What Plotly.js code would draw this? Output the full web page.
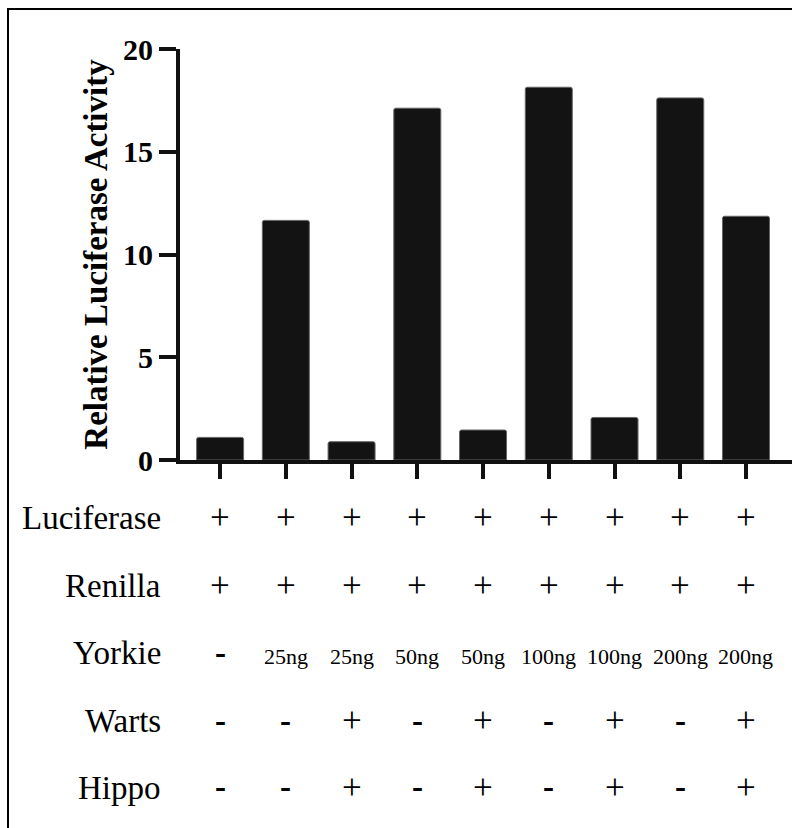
<!DOCTYPE html>
<html>
<head>
<meta charset="utf-8">
<script src="https://cdn.plot.ly/plotly-3.0.1.min.js"></script>
<style>
  html, body { margin: 0; padding: 0; background: #fff; }
  #wrap { position: relative; width: 792px; height: 828px; overflow: hidden; }
  #frame { position: absolute; left: 7px; top: 8px; width: 800px; height: 840px;
           border-left: 2.5px solid #000; border-top: 2.5px solid #000; pointer-events: none; }
  #chart { position: absolute; left: 0; top: 0; width: 792px; height: 828px; }
  #chart text { font-family: 'Liberation Serif' !important; }
</style>
</head>
<body>
<div id="wrap">
  <div id="chart"></div>
  <div id="frame"></div>
</div>
<script>
// Relative luciferase activity per transfection condition
const conditions = [0, 1, 2, 3, 4, 5, 6, 7, 8];
const activity = [1.10, 11.66, 0.89, 17.12, 1.46, 18.14, 2.07, 17.62, 11.86];

// Transfection table shown under the bars
const rowNames = ['Luciferase', 'Renilla', 'Yorkie', 'Warts', 'Hippo'];
const luciferase = ['+', '+', '+', '+', '+', '+', '+', '+', '+'];
const renilla = ['+', '+', '+', '+', '+', '+', '+', '+', '+'];
const yorkie = ['-', '25ng', '25ng', '50ng', '50ng', '100ng', '100ng', '200ng', '200ng'];
const warts = ['-', '-', '+', '-', '+', '-', '+', '-', '+'];
const hippo = ['-', '-', '+', '-', '+', '-', '+', '-', '+'];
const yTicks = [0, 5, 10, 15, 20];

const rows = [luciferase, renilla, yorkie, warts, hippo];

// plot area geometry in page pixels
const W = 792, H = 828;
const plotLeft = 180, plotTop = 49, plotBottom = 460;
const plotH = plotBottom - plotTop;
const paperY = py => (plotBottom - py) / plotH;
const paperX = px => (px - plotLeft) / (W - plotLeft);

const fontName = 'Liberation Serif';
const rowBaselines = [529, 597, 664, 732, 799];

const annotations = [];
rows.forEach((row, r) => {
  const base = rowBaselines[r];
  annotations.push({
    xref: 'paper', yref: 'paper',
    x: paperX(163), y: paperY(base - 11),
    xanchor: 'right', yanchor: 'middle',
    text: rowNames[r], showarrow: false,
    font: {family: fontName, size: 33, color: '#000'}
  });
  row.forEach((cell, i) => {
    const isMinus = cell === '-';
    const small = cell.indexOf('ng') > 0;
    const size = small ? 22 : (isMinus ? 33 : 35);
    annotations.push({
      xref: 'x', yref: 'paper',
      x: conditions[i], y: paperY(base - (small ? 7.5 : 11.5)),
      xanchor: 'center', yanchor: 'middle',
      text: isMinus ? '<b>-</b>' : cell, showarrow: false,
      font: {family: fontName, size: size, color: '#000'}
    });
  });
});

const trace = {
  type: 'bar',
  x: conditions,
  y: activity,
  width: 0.715,
  marker: {color: '#131313', line: {color: '#666', width: 1}, cornerradius: 2},
  hoverinfo: 'skip'
};

const layout = {
  width: W, height: H,
  margin: {l: plotLeft, r: 0, t: plotTop, b: H - plotBottom, pad: 0},
  paper_bgcolor: '#fff', plot_bgcolor: '#fff',
  showlegend: false,
  xaxis: {
    range: [-0.61, 8.7],
    tickvals: conditions,
    showticklabels: false,
    ticks: 'outside', ticklen: 15, tickwidth: 4, tickcolor: '#111',
    showline: true, linewidth: 4, linecolor: '#111',
    showgrid: false, zeroline: false, fixedrange: true
  },
  yaxis: {
    range: [0, 20],
    tickvals: yTicks,
    ticks: 'outside', ticklen: 17, tickwidth: 4, tickcolor: '#111',
    showline: true, linewidth: 4, linecolor: '#111',
    showgrid: false, zeroline: false,
    tickfont: {family: fontName, size: 30, color: '#000', weight: 'bold'},
    ticklabelstandoff: 0,
    title: {
      text: '<b>Relative Luciferase Activity</b>',
      font: {family: fontName, size: 33, color: '#000'},
      standoff: 6
    },
    automargin: false, fixedrange: true
  },
  annotations: annotations
};

Plotly.newPlot('chart', [trace], layout, {displayModeBar: false});
</script>
</body>
</html>
